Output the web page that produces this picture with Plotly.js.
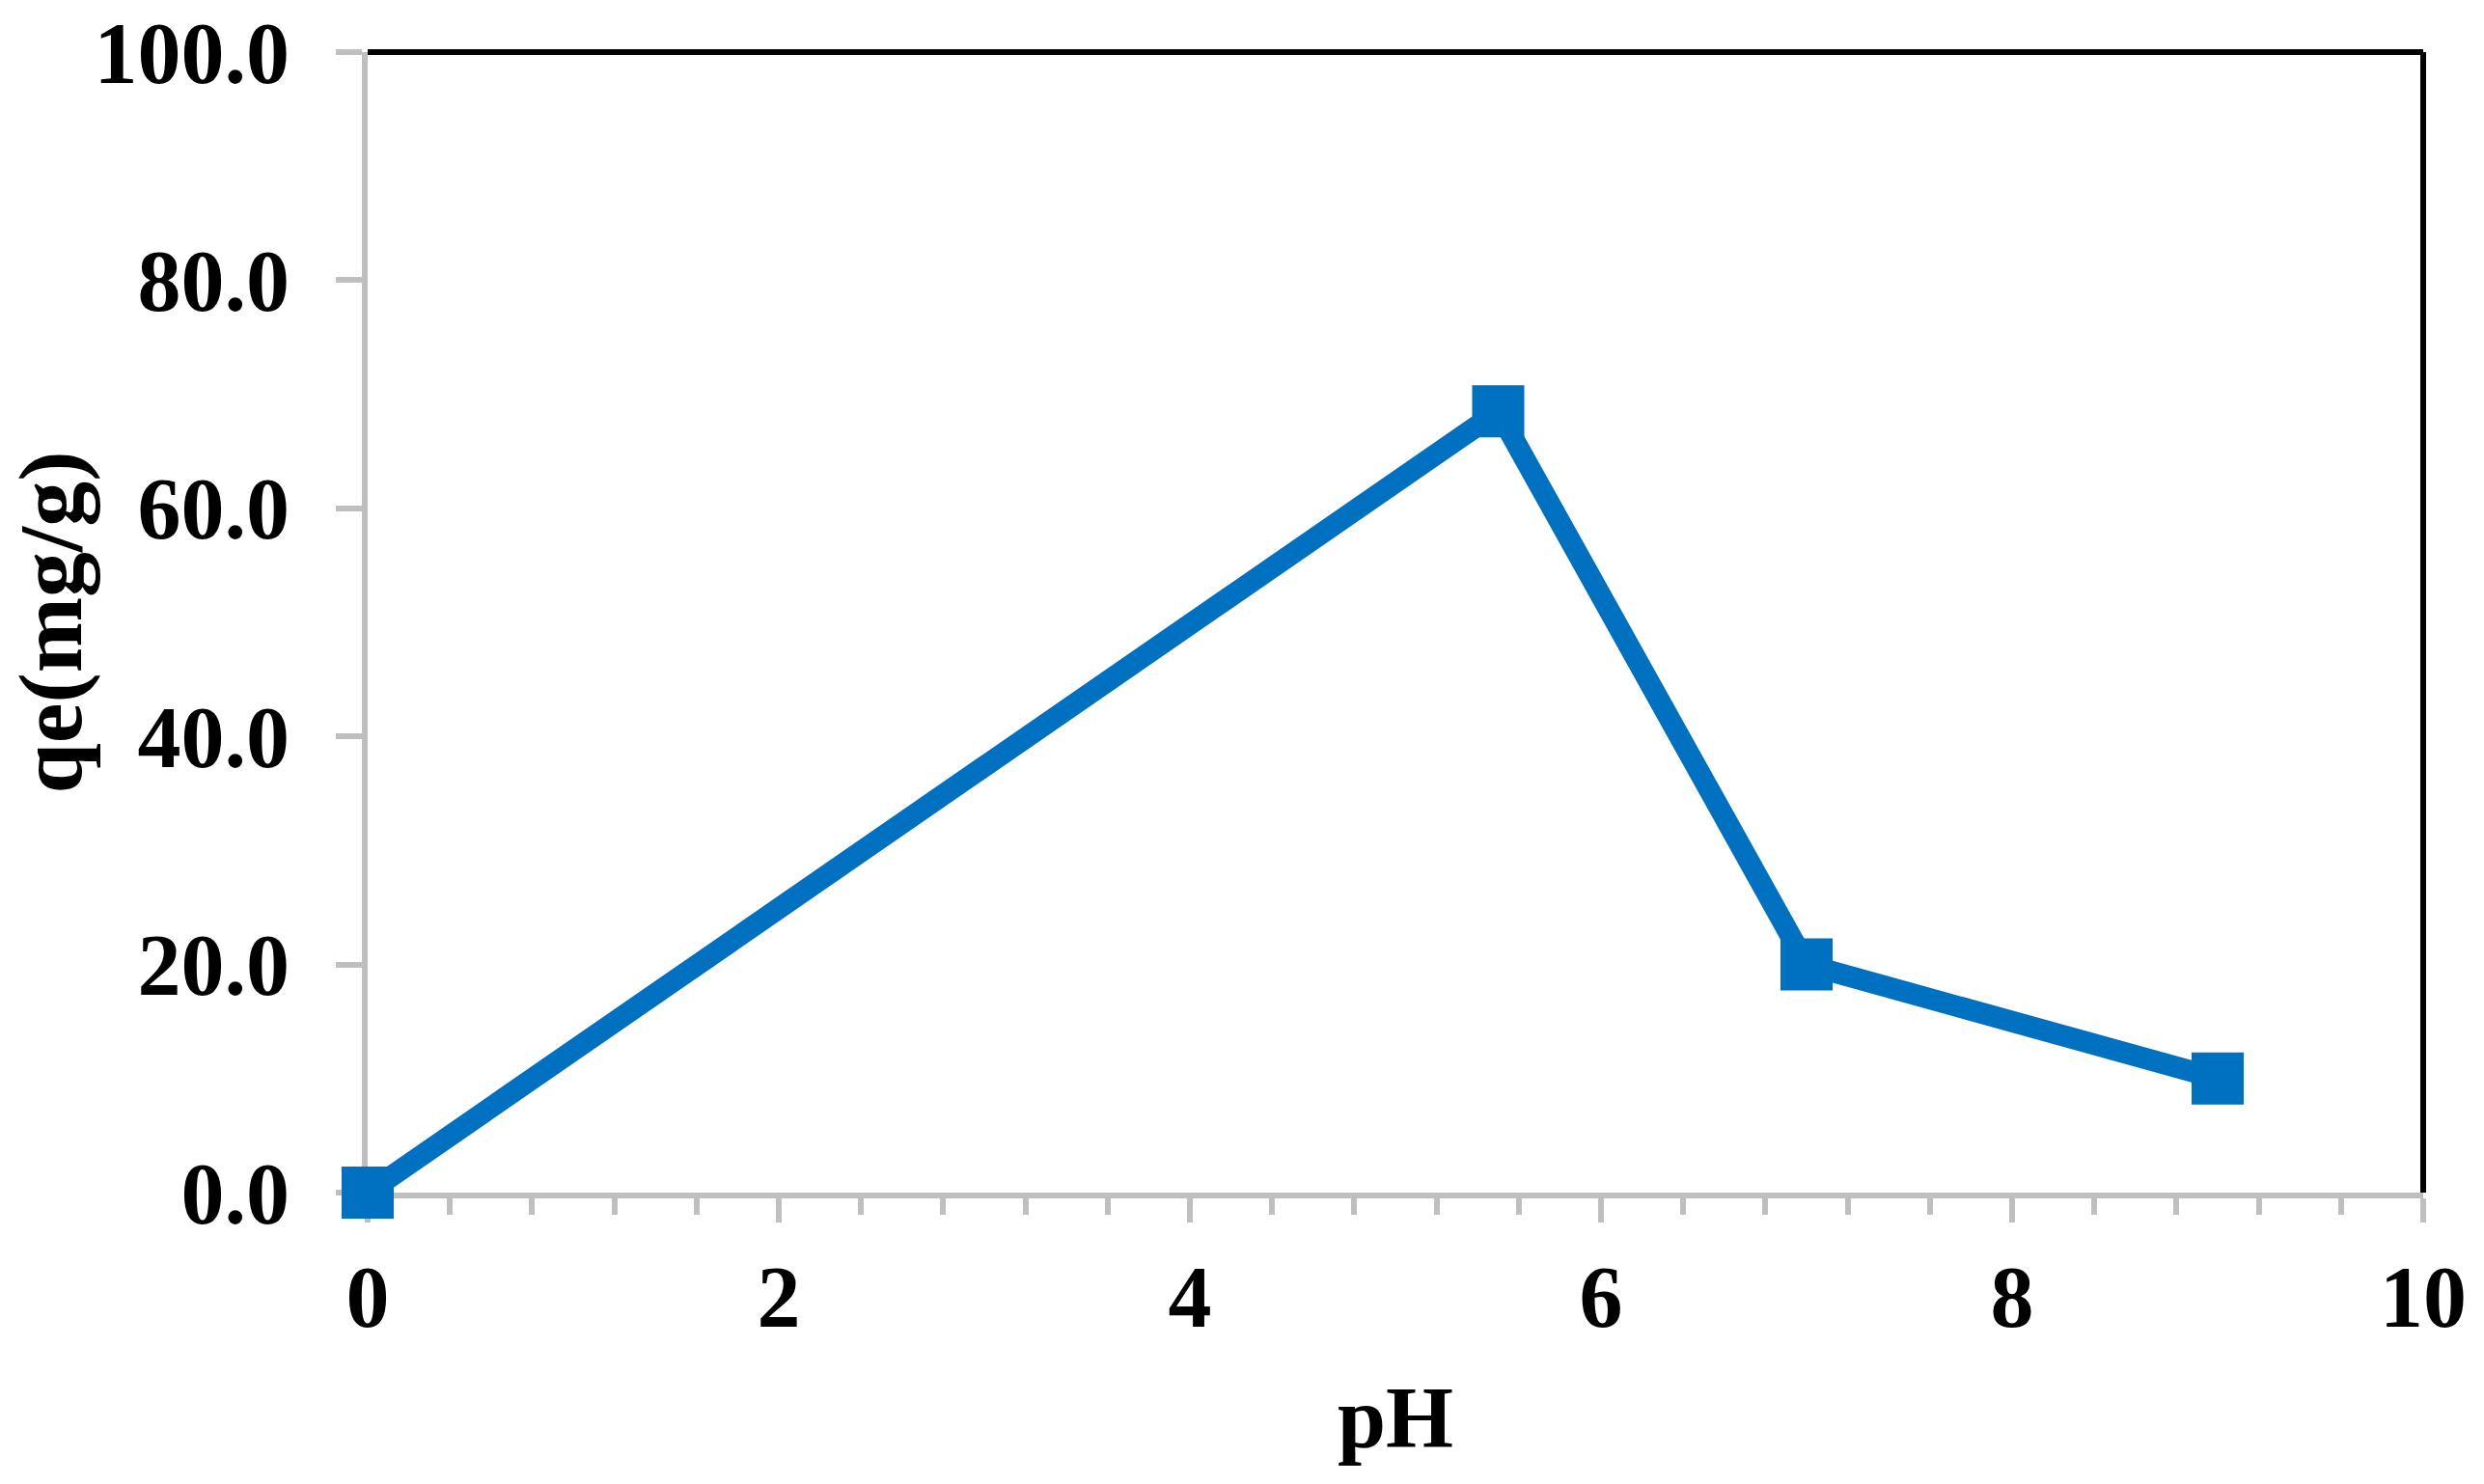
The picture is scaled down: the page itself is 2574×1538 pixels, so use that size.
<!DOCTYPE html>
<html>
<head>
<meta charset="utf-8">
<script src="https://cdn.plot.ly/plotly-3.0.1.min.js"></script>
<style>
  html, body { margin: 0; padding: 0; background: #fff; }
  #chart { width: 2574px; height: 1538px; }
</style>
</head>
<body>
<div id="chart"></div>
<script>
// pH vs adsorption capacity
const pH = [0, 5.5, 7, 9];
const qe = [0, 68.5, 20, 10];

const serif = 'Liberation Serif, Times New Roman, serif';
const axisGray = '#BFBFBF';

const trace = {
    x: pH,
    y: qe,
    mode: 'lines+markers',
    line: { color: '#0070C0', width: 22 },
    marker: { symbol: 'square', size: 54, color: '#0070C0' },
    cliponaxis: false,
    showlegend: false
};

const layout = {
    width: 2574,
    height: 1538,
    paper_bgcolor: '#fff',
    plot_bgcolor: '#fff',
    margin: { l: 381, r: 63, t: 54, b: 302 },
    font: { family: serif, size: 90, color: '#000', weight: 'bold' },
    xaxis: {
        range: [0, 10],
        dtick: 2,
        tick0: 0,
        layer: 'below traces',
        ticks: 'outside',
        ticklen: 25,
        tickwidth: 6,
        tickcolor: axisGray,
        showline: true,
        linecolor: axisGray,
        linewidth: 6,
        showgrid: false,
        zeroline: false,
        ticklabelstandoff: 0,
        tickfont: { family: serif, size: 90, weight: 'bold' },
        minor: { dtick: 0.4, ticks: 'outside', ticklen: 17, tickwidth: 6, tickcolor: axisGray, showgrid: false },
        title: { text: 'pH', font: { family: serif, size: 90, weight: 'bold' }, standoff: 46 }
    },
    yaxis: {
        range: [0, 100],
        dtick: 20,
        tick0: 0,
        tickformat: '.1f',
        layer: 'below traces',
        ticks: 'outside',
        ticklen: 27,
        tickwidth: 6,
        tickcolor: axisGray,
        showline: true,
        linecolor: axisGray,
        linewidth: 6,
        showgrid: false,
        zeroline: false,
        ticklabelstandoff: 30,
        tickfont: { family: serif, size: 90, weight: 'bold' },
        title: { text: 'qe(mg/g)', font: { family: serif, size: 94, weight: 'bold' }, standoff: 20 }
    },
    // black frame on top and right
    shapes: [
        { type: 'line', xref: 'paper', yref: 'paper', layer: 'below', x0: 0, x1: 1, y0: 1, y1: 1, line: { color: '#000', width: 6 } },
        { type: 'line', xref: 'paper', yref: 'paper', layer: 'below', x0: 1, x1: 1, y0: 0, y1: 1, line: { color: '#000', width: 6 } }
    ]
};

Plotly.newPlot('chart', [trace], layout, { displayModeBar: false, staticPlot: true });
</script>
</body>
</html>
